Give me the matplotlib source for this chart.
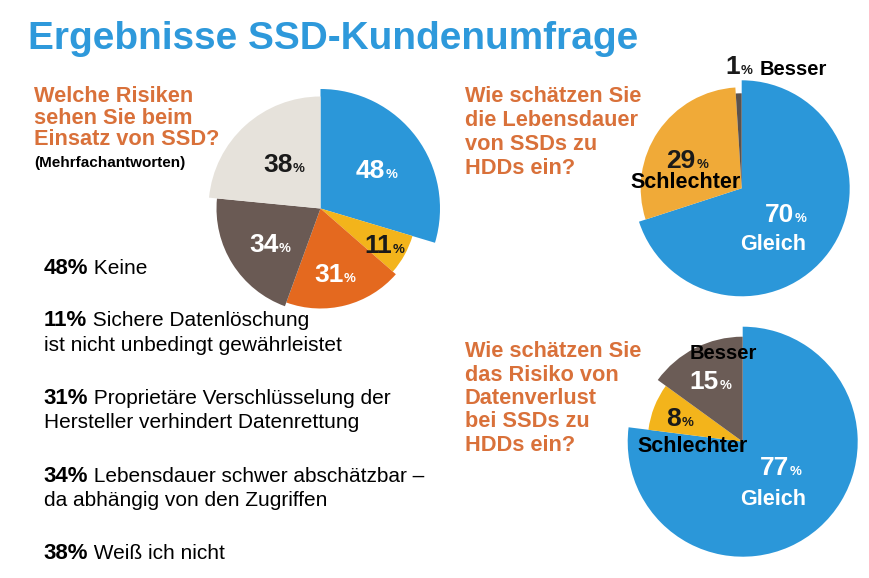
import matplotlib
matplotlib.use('Agg')
import matplotlib.pyplot as plt

plt.rcParams['font.family'] = 'Liberation Sans'

W, H = 869, 578

# data
title = 'Ergebnisse SSD-Kundenumfrage'

risk_question = ['Welche Risiken', 'sehen Sie beim', 'Einsatz von SSD?']
risk_note = '(Mehrfachantworten)'
risk_values = [48, 11, 31, 34, 38]
risk_texts = [['Keine'],
              ['Sichere Datenlöschung', 'ist nicht unbedingt gewährleistet'],
              ['Proprietäre Verschlüsselung der', 'Hersteller verhindert Datenrettung'],
              ['Lebensdauer schwer abschätzbar –', 'da abhängig von den Zugriffen'],
              ['Weiß ich nicht']]

life_question = ['Wie schätzen Sie', 'die Lebensdauer', 'von SSDs zu', 'HDDs ein?']
life_values = [70, 29, 1]
life_names = ['Gleich', 'Schlechter', 'Besser']

loss_question = ['Wie schätzen Sie', 'das Risiko von', 'Datenverlust', 'bei SSDs zu', 'HDDs ein?']
loss_values = [77, 8, 15]
loss_names = ['Gleich', 'Schlechter', 'Besser']

# styles
BLUE = '#2E99DB'
ORANGE_TXT = '#D9713A'
DARK = '#1a1a1a'

risk_colors = ['#2B97D9', '#F3B41B', '#E4691F', '#6A5A54', '#E6E2DB']
risk_radii = [119.5, 96, 100, 104, 112]
risk_pct_pos = [(65, -30), (72, 44.5), (23, 73), (-42, 43), (-28, -37)]
risk_pct_col = ['white', DARK, 'white', 'white', DARK]

life_colors = ['#2B97D9', '#F0AA38', '#5B524D']
life_radii = [108, 101, 95]
life_pct_pos = [(52, 33.5), (-46, -20.5), (-2, -114.5)]
life_pct_col = ['white', DARK, DARK]
life_name_pos = [(31, 61.5, 'center'), (-56, -0.5, 'center'), (18, -113.5, 'left')]
life_name_col = ['white', 'black', 'black']

loss_colors = ['#2B97D9', '#F3B41B', '#6B5C56']
loss_radii = [115, 95, 105]
loss_pct_pos = [(46, 33.5), (-62, -15.5), (-24, -52.5)]
loss_pct_col = ['white', DARK, 'white']
loss_name_pos = [(30, 63.5, 'center'), (-50, 10, 'center'), (-19, -82.5, 'center')]
loss_name_col = ['white', 'black', 'black']

fig = plt.figure(figsize=(W / 100, H / 100), dpi=100)
ax = fig.add_axes([0, 0, 1, 1])
ax.set_xlim(0, W)
ax.set_ylim(0, H)
renderer = fig.canvas.get_renderer()


def put(x, y, s, **kw):
    # pixel coords, y from top
    return ax.text(x, H - y, s, va='baseline', **kw)


def draw_pie(values, colors, radii, cx, cy):
    wedges, _ = ax.pie(values, colors=colors, startangle=90, counterclock=False,
                       center=(cx, H - cy), radius=1, frame=True,
                       wedgeprops=dict(linewidth=0))
    for w, r in zip(wedges, radii):
        w.set_radius(r)


def pct_labels(values, pos, cols, cx, cy):
    for v, (dx, dy), c in zip(values, pos, cols):
        put(cx + dx, cy + dy, str(v), ha='right', fontsize=19, fontweight='bold', color=c)
        put(cx + dx + 0.5, cy + dy, '%', ha='left', fontsize=9.5, fontweight='bold', color=c)


def name_labels(names, pos, cols, cx, cy, size=15.5):
    for n, (dx, dy, ha), c in zip(names, pos, cols):
        fs = 14.5 if n == 'Besser' else size
        put(cx + dx, cy + dy, n, ha=ha, fontsize=fs, fontweight='bold', color=c)


# title
put(28, 49, title, fontsize=27.9, fontweight='bold', color=BLUE)

# left: risks
c1 = (320.5, 208.5)
draw_pie(risk_values, risk_colors, risk_radii, *c1)
pct_labels(risk_values, risk_pct_pos, risk_pct_col, *c1)

for i, line in enumerate(risk_question):
    put(34, 102 + i * 21.7, line, fontsize=15.7, fontweight='bold', color=ORANGE_TXT)
put(34, 167, risk_note, fontsize=11, fontweight='bold', color='black')

y = 273.5
for v, lines in zip(risk_values, risk_texts):
    t = put(43.5, y, f'{v}%', fontsize=16, fontweight='bold', color='black')
    x1 = t.get_window_extent(renderer).x1
    put(x1, y, ' ' + lines[0], fontsize=15, color='black')
    for j, extra in enumerate(lines[1:]):
        put(43.5, y + (j + 1) * 24.5, extra, fontsize=15, color='black')
    y += len(lines) * 24.5 + 28.5

# right top: lifespan
c2 = (741.7, 188.3)
draw_pie(life_values, life_colors, life_radii, *c2)
pct_labels(life_values, life_pct_pos, life_pct_col, *c2)
name_labels(life_names, life_name_pos, life_name_col, *c2)
for i, line in enumerate(life_question):
    put(465, 102.5 + i * 24, line, fontsize=15.7, fontweight='bold', color=ORANGE_TXT)

# right bottom: data loss
c3 = (742.7, 441.7)
draw_pie(loss_values, loss_colors, loss_radii, *c3)
pct_labels(loss_values, loss_pct_pos, loss_pct_col, *c3)
name_labels(loss_names, loss_name_pos, loss_name_col, *c3)
for i, line in enumerate(loss_question):
    put(465, 357.3 + i * 23.35, line, fontsize=15.7, fontweight='bold', color=ORANGE_TXT)

ax.set_xlim(0, W)
ax.set_ylim(0, H)
ax.set_aspect('auto')
ax.axis('off')

fig.savefig('out.png', dpi=100)
